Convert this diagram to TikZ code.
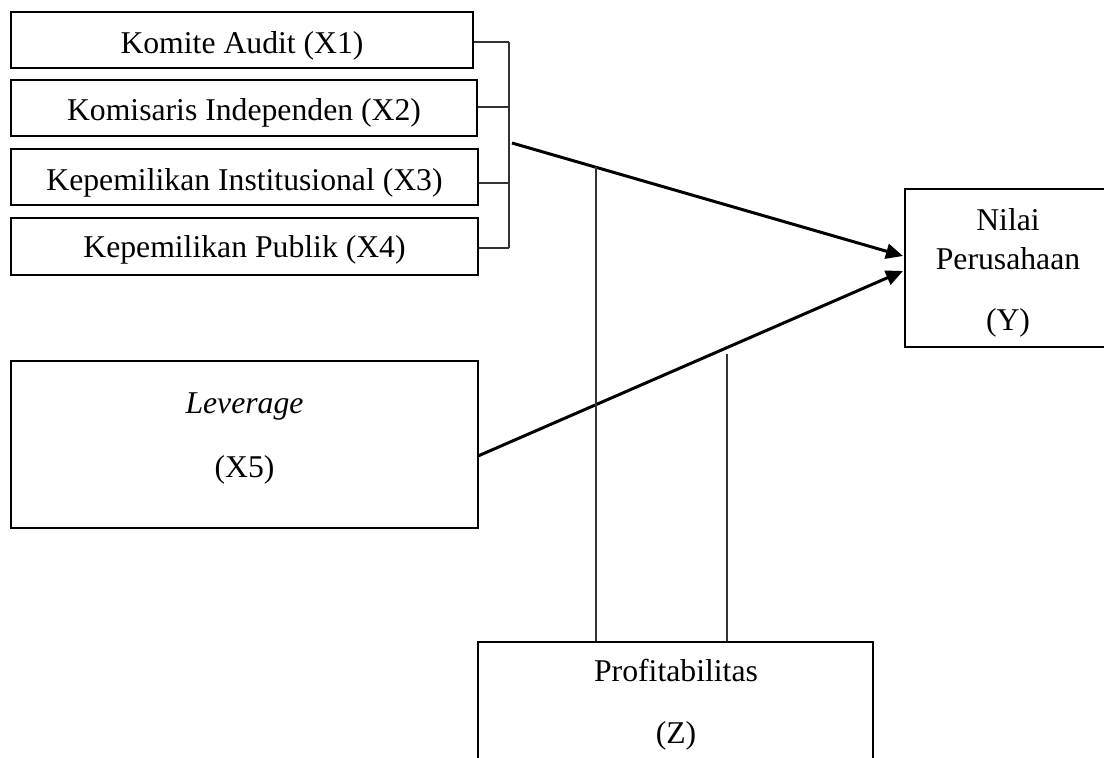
\documentclass[tikz,border=0pt]{standalone}
\usepackage{fontspec}
\setmainfont{Liberation Serif}
\usetikzlibrary{arrows.meta,calc}
\begin{document}
\begin{tikzpicture}[x=1pt,y=-1pt,
  box/.style={draw=black,line width=2.4pt,rectangle,inner sep=0pt},
  lbl/.style={anchor=base,inner sep=0pt,font=\fontsize{31.7}{38}\selectfont},
  thin/.style={draw=black!80,line width=1.4pt},
  arr/.style={draw=black,line width=3pt,-{Triangle[length=17pt,width=15pt]}}]
\useasboundingbox (0,0) rectangle (1104,758);
\clip (0,0) rectangle (1104,758);
% boxes
\node[box,minimum width=462pt,minimum height=56pt] (b1) at (242,40) {};
\node[box,minimum width=466pt,minimum height=56pt] (b2) at (244,108) {};
\node[box,minimum width=467pt,minimum height=56pt] (b3) at (244.5,177) {};
\node[box,minimum width=467pt,minimum height=57pt] (b4) at (244.5,246.5) {};
\node[box,minimum width=467pt,minimum height=167pt] (lev) at (244.5,444.5) {};
\node[box,minimum width=206pt,minimum height=158pt] (yb) at (1008,268) {};
\node[box,minimum width=395pt,minimum height=170pt] (zb) at (675.5,727) {};
% texts
\node[lbl] (t1) at (242,53) {Komite Audit (X1)};
\node[lbl] (t2) at (244,120) {Komisaris Independen (X2)};
\node[lbl] (t3) at (244.5,190) {Kepemilikan Institusional (X3)};
\node[lbl] (t4) at (244.5,257) {Kepemilikan Publik (X4)};
\node[lbl] (t5) at (244.5,413) {\itshape Leverage};
\node[lbl] (t6) at (244.5,477) {(X5)};
\node[lbl] (t7) at (1008,230) {Nilai};
\node[lbl] (t8) at (1008,269) {Perusahaan};
\node[lbl] (t9) at (1008,330) {(Y)};
\node[lbl] (t10) at (676,681) {Profitabilitas};
\node[lbl] (t11) at (676,743) {(Z)};
% bracket
\coordinate (j1) at (509,42);
\coordinate (j2) at (509,107);
\coordinate (j3) at (509,183);
\coordinate (j4) at (509,248);
\draw[thin] (b1.east |- j1) -- (j1);
\draw[thin] (b2.east |- j2) -- (j2);
\draw[thin] (b3.east |- j3) -- (j3);
\draw[thin] (b4.east |- j4) -- (j4);
\draw[thin] (j1) -- (j4);
% arrows
\coordinate (s1) at (512,143);
\coordinate (e1) at (903,256);
\coordinate (s2) at (478,456);
\coordinate (e2) at (903,271);
\draw[arr] (s1) -- (e1);
\draw[arr] (s2) -- (e2);
% moderating lines
\coordinate (m1) at (596,167);
\coordinate (m2) at (727,354);
\draw[thin] (m1) -- (zb.north -| m1);
\draw[thin] (m2) -- (zb.north -| m2);
\end{tikzpicture}
\end{document}
